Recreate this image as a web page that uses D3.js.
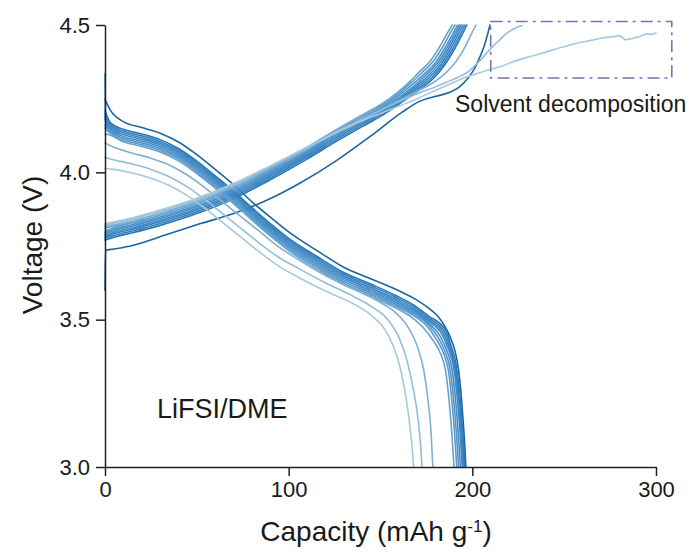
<!DOCTYPE html>
<html>
<head>
<meta charset="utf-8">
<script src="https://cdn.jsdelivr.net/npm/d3@7"></script>
<style>
  html, body { margin: 0; padding: 0; background: #ffffff; }
  svg { display: block; font-family: "Liberation Sans", Arial, sans-serif; }
</style>
</head>
<body>
<svg id="chart" width="689" height="552"></svg>
<script>
// ---- Galvanostatic charge/discharge profiles, LiFSI/DME electrolyte ----
// Each profile is a list of [capacity (mAh/g), voltage (V)] readings.

const cycles = [1, 2, 3, 4, 5, 6, 7, 8, 9, 10, 11, 12];

// Discharge branches
const dis1 = [[0,4.248],[3,4.21],[10,4.172],[20,4.152],[30,4.133],[40,4.103],[50,4.06],[60,4.01],[70,3.958],[80,3.9],[90,3.848],[100,3.798],[115,3.736],[130,3.678],[145,3.638],[158,3.604],[168,3.573],[176,3.54],[181,3.513],[185,3.478],[188,3.44],[190.5,3.395],[192.5,3.33],[194,3.24],[195.2,3.14],[196,3.06],[196.5,3.0]];
const dis2 = [[0,4.21],[3,4.168],[10,4.146],[20,4.13],[30,4.111],[40,4.081],[50,4.038],[60,3.988],[70,3.936],[80,3.88],[90,3.826],[100,3.776],[115,3.716],[130,3.66],[145,3.62],[158,3.583],[168,3.55],[176,3.513],[185,3.468],[188.5,3.41],[191.5,3.335],[193.5,3.225],[195,3.1],[196,3.0]];
const dis3 = [[0,4.2],[3,4.162],[10,4.14],[20,4.124],[30,4.105],[40,4.075],[50,4.032],[60,3.982],[70,3.93],[80,3.874],[90,3.82],[100,3.77],[115,3.71],[130,3.654],[145,3.614],[158,3.577],[168,3.544],[176,3.507],[184.5,3.462],[188,3.406],[191,3.333],[193,3.222],[194.5,3.1],[195.5,3.0]];
const dis4 = [[0,4.19],[3,4.156],[10,4.134],[20,4.118],[30,4.099],[40,4.069],[50,4.026],[60,3.976],[70,3.924],[80,3.868],[90,3.814],[100,3.764],[115,3.704],[130,3.648],[145,3.608],[158,3.571],[168,3.538],[176,3.501],[184,3.456],[187.5,3.403],[190.5,3.331],[192.5,3.221],[194,3.1],[195,3.0]];
const dis5 = [[0,4.18],[3,4.15],[10,4.128],[20,4.112],[30,4.093],[40,4.063],[50,4.02],[60,3.97],[70,3.918],[80,3.862],[90,3.808],[100,3.758],[115,3.698],[130,3.642],[145,3.602],[158,3.565],[168,3.532],[176,3.495],[183.5,3.45],[187,3.4],[190,3.33],[192,3.22],[193.5,3.1],[194.5,3.0]];
const dis6 = [[0,4.335],[0.3,4.17],[3,4.144],[10,4.122],[20,4.106],[30,4.087],[40,4.057],[50,4.014],[60,3.964],[70,3.912],[80,3.856],[90,3.802],[100,3.752],[115,3.692],[130,3.636],[145,3.596],[158,3.559],[168,3.526],[176,3.489],[182.5,3.444],[186,3.397],[189,3.329],[191,3.219],[192.5,3.1],[193.5,3.0]];
const dis7 = [[0,4.16],[3,4.138],[10,4.116],[20,4.1],[30,4.081],[40,4.051],[50,4.008],[60,3.958],[70,3.906],[80,3.85],[90,3.796],[100,3.746],[115,3.686],[130,3.63],[145,3.59],[158,3.553],[168,3.52],[176,3.483],[181.5,3.438],[185,3.394],[188,3.327],[190,3.218],[191.5,3.1],[192.5,3.0]];
const dis8 = [[0,4.15],[3,4.132],[10,4.11],[20,4.094],[30,4.075],[40,4.045],[50,4.002],[60,3.952],[70,3.9],[80,3.844],[90,3.79],[100,3.74],[115,3.68],[130,3.624],[145,3.584],[158,3.547],[168,3.514],[175,3.48],[180.5,3.432],[184,3.391],[187,3.326],[189,3.217],[190.5,3.1],[191.5,3.0]];
const dis9 = [[0,4.13],[3,4.126],[10,4.104],[20,4.088],[30,4.069],[40,4.039],[50,3.996],[60,3.946],[70,3.894],[80,3.838],[90,3.784],[100,3.734],[115,3.674],[130,3.618],[145,3.578],[158,3.541],[167,3.508],[173,3.475],[179,3.426],[182.5,3.388],[185.5,3.324],[187.5,3.216],[189,3.1],[190,3.0]];
const dis10 = [[0,4.1],[5,4.085],[15,4.065],[25,4.048],[35,4.025],[45,3.99],[55,3.945],[65,3.895],[75,3.845],[85,3.795],[95,3.745],[105,3.705],[120,3.65],[135,3.605],[148,3.565],[158,3.525],[165,3.475],[170,3.41],[173.5,3.33],[176,3.22],[177.6,3.11],[178.5,3.0]];
const dis11 = [[0,4.05],[5,4.042],[15,4.028],[25,4.01],[35,3.985],[45,3.95],[55,3.905],[65,3.855],[75,3.805],[85,3.755],[95,3.71],[105,3.675],[120,3.625],[135,3.58],[145,3.545],[154,3.5],[160,3.44],[164.5,3.36],[168,3.26],[170.5,3.16],[172,3.06],[172.6,3.0]];
const dis12 = [[0,4.013],[5,4.01],[15,3.998],[25,3.98],[35,3.955],[45,3.92],[55,3.875],[65,3.825],[75,3.775],[85,3.725],[95,3.68],[105,3.645],[120,3.597],[135,3.555],[145,3.515],[152,3.47],[157,3.41],[161,3.33],[164,3.23],[166,3.14],[167.3,3.06],[168,3.0]];

// Charge branches
const chg1 = [[0,3.6],[0.3,3.735],[5,3.74],[15,3.752],[34,3.79],[52,3.826],[70,3.86],[88,3.905],[106,3.963],[126,4.04],[144,4.12],[162,4.205],[171,4.24],[180,4.258],[187,4.27],[193,4.29],[197,4.315],[201,4.35],[204,4.39],[206.5,4.43],[208.5,4.473],[209.6,4.5]];
const chg2 = [[0,3.77],[5,3.78],[15,3.795],[30,3.82],[50,3.86],[70,3.91],[90,3.975],[110,4.045],[126,4.105],[140,4.155],[150,4.19],[162,4.24],[170,4.275],[179,4.32],[185,4.365],[190,4.415],[194,4.462],[197,4.5]];
const chg3 = [[0,3.775],[5,3.786],[15,3.801],[30,3.826],[50,3.866],[70,3.916],[90,3.981],[110,4.051],[126,4.111],[140,4.161],[150,4.196],[162,4.246],[169,4.278],[178,4.322],[184,4.366],[189,4.416],[193,4.463],[196,4.5]];
const chg4 = [[0,3.78],[5,3.792],[15,3.807],[30,3.832],[50,3.872],[70,3.922],[90,3.987],[110,4.057],[126,4.117],[140,4.167],[150,4.202],[162,4.252],[168.5,4.282],[177,4.325],[183,4.367],[188,4.418],[192,4.464],[195,4.5]];
const chg5 = [[0,3.785],[5,3.797],[15,3.812],[30,3.837],[50,3.877],[70,3.927],[90,3.992],[110,4.062],[126,4.122],[140,4.172],[150,4.207],[162,4.257],[168,4.286],[176,4.328],[182,4.369],[187,4.419],[191,4.465],[194,4.5]];
const chg6 = [[0,3.79],[5,3.803],[15,3.818],[30,3.843],[50,3.883],[70,3.933],[90,3.998],[110,4.068],[126,4.128],[140,4.178],[150,4.213],[162,4.263],[168,4.292],[175,4.332],[181,4.371],[186,4.42],[190,4.465],[193,4.5]];
const chg7 = [[0,3.795],[5,3.808],[15,3.823],[30,3.848],[50,3.888],[70,3.938],[90,4.003],[110,4.073],[126,4.133],[140,4.183],[150,4.218],[161,4.266],[167,4.296],[174,4.335],[180,4.373],[185,4.421],[189,4.466],[192,4.5]];
const chg8 = [[0,3.8],[5,3.814],[15,3.829],[30,3.854],[50,3.894],[70,3.944],[90,4.009],[110,4.079],[126,4.139],[140,4.189],[150,4.224],[160,4.268],[166,4.3],[172.5,4.338],[178.5,4.375],[183.5,4.422],[187.5,4.467],[190.5,4.5]];
const chg9 = [[0,3.81],[5,3.82],[15,3.835],[30,3.86],[50,3.9],[70,3.95],[90,4.015],[110,4.085],[126,4.145],[140,4.195],[150,4.23],[159,4.27],[165,4.302],[171,4.34],[177,4.377],[182,4.424],[186,4.468],[189,4.5]];
const chg10 = [[0,3.815],[5,3.822],[15,3.835],[30,3.862],[50,3.902],[70,3.952],[90,4.015],[110,4.08],[126,4.135],[140,4.18],[150,4.212],[162,4.25],[170,4.275],[180,4.31],[186,4.34],[191,4.375],[196,4.425],[199.5,4.47],[202,4.5]];
const chg11 = [[0,3.82],[5,3.828],[15,3.842],[30,3.868],[50,3.908],[70,3.958],[90,4.02],[110,4.085],[126,4.138],[140,4.18],[150,4.21],[162,4.245],[172,4.272],[180,4.29],[186,4.306],[192,4.322],[197,4.338],[201,4.36],[205,4.385],[210,4.42],[215,4.45],[219,4.473],[223,4.488],[227,4.498]];
const chg12 = [[0,3.825],[5,3.832],[15,3.846],[30,3.872],[50,3.912],[70,3.962],[90,4.022],[110,4.085],[126,4.135],[140,4.175],[150,4.2],[160,4.225],[170,4.25],[177,4.27],[186,4.295],[196,4.322],[203,4.336],[210,4.35],[216,4.36],[222,4.375],[231,4.392],[240,4.408],[249,4.425],[258,4.44],[264,4.447],[270,4.455],[276,4.46],[280,4.463],[282,4.456],[283.5,4.45],[286,4.453],[289,4.458],[291,4.46],[293,4.466],[295,4.47],[297,4.468],[300,4.473]];

const dischargeCurves = [dis1, dis2, dis3, dis4, dis5, dis6, dis7, dis8, dis9, dis10, dis11, dis12];
const chargeCurves = [chg1, chg2, chg3, chg4, chg5, chg6, chg7, chg8, chg9, chg10, chg11, chg12];

// Axes
const xMajorTicks = [0, 100, 200, 300];
const xMinorTicks = [50, 150, 250];
const yMajorTicks = [3.0, 3.5, 4.0, 4.5];
const yMinorTicks = [3.25, 3.75, 4.25];

// Highlighted region of electrolyte oxidation
const boxCapacity = [210, 308.6];
const boxVoltage = [4.32, 4.512];

// ---- styling ----
const cycleColors = ["#1b65a3", "#2a76b6", "#3280bf", "#3985c3", "#3f89c5", "#468dc7", "#4f94ca", "#5a9bcc", "#66a2cf", "#80b1d4", "#93bdd9", "#a6c9de"];
const axisColor = "#222222";
const textColor = "#1a1a1a";

const svg = d3.select("#chart");

const x = d3.scaleLinear().domain([0, 300]).range([105, 656]);
const y = d3.scaleLinear().domain([3.0, 4.5]).range([467, 25]);

const line = d3.line()
  .x(d => x(d[0]))
  .y(d => y(d[1]))
  .curve(d3.curveMonotoneX);

// Profiles
const plot = svg.append("g").attr("class", "profiles")
  .attr("fill", "none")
  .attr("stroke-width", 1.6)
  .attr("stroke-linejoin", "round")
  .attr("stroke-linecap", "round");

cycles.forEach((c, i) => {
  plot.append("path")
    .datum(chargeCurves[i])
    .attr("stroke", cycleColors[i])
    .attr("d", line);
  plot.append("path")
    .datum(dischargeCurves[i])
    .attr("stroke", cycleColors[i])
    .attr("d", line);
});

// X axis
const gx = svg.append("g").attr("transform", `translate(0,${y(3.0)})`);
gx.call(d3.axisBottom(x).tickValues(xMinorTicks).tickSize(5).tickFormat("").tickSizeOuter(0));
gx.call(d3.axisBottom(x).tickValues(xMajorTicks).tickSize(9).tickPadding(5).tickSizeOuter(0).tickFormat(d3.format("d")));

// Y axis
const gy = svg.append("g").attr("transform", `translate(${x(0)},0)`);
gy.call(d3.axisLeft(y).tickValues(yMinorTicks).tickSize(5).tickFormat("").tickSizeOuter(0));
gy.call(d3.axisLeft(y).tickValues(yMajorTicks).tickSize(9).tickPadding(6).tickSizeOuter(0).tickFormat(d3.format(".1f")));

svg.selectAll(".domain").attr("stroke", axisColor).attr("stroke-width", 1.5);
svg.selectAll(".tick line").attr("stroke", axisColor).attr("stroke-width", 1.5);
svg.selectAll(".tick text")
  .attr("fill", textColor)
  .style("font-family", "'Liberation Sans', Arial, sans-serif")
  .style("font-size", "22px");

// Axis titles
const xTitle = svg.append("text")
  .attr("x", 376).attr("y", 541)
  .attr("text-anchor", "middle")
  .attr("fill", textColor)
  .style("font-size", "28px");
xTitle.append("tspan").text("Capacity (mAh g");
xTitle.append("tspan").attr("baseline-shift", "super").style("font-size", "17px").text("-1");
xTitle.append("tspan").text(")");

svg.append("text")
  .attr("transform", "translate(42,245) rotate(-90)")
  .attr("text-anchor", "middle")
  .attr("fill", textColor)
  .style("font-size", "28px")
  .text("Voltage (V)");

// Annotation box and labels
svg.append("rect")
  .attr("x", x(boxCapacity[0]))
  .attr("y", y(boxVoltage[1]))
  .attr("width", x(boxCapacity[1]) - x(boxCapacity[0]))
  .attr("height", y(boxVoltage[0]) - y(boxVoltage[1]))
  .attr("fill", "none")
  .attr("stroke", "#7d6fb4")
  .attr("stroke-width", 1.6)
  .attr("stroke-dasharray", "12,5,3,5");

svg.append("text")
  .attr("x", 455).attr("y", 112)
  .attr("fill", textColor)
  .style("font-size", "23px")
  .text("Solvent decomposition");

svg.append("text")
  .attr("x", 157).attr("y", 418)
  .attr("fill", textColor)
  .style("font-size", "27px")
  .text("LiFSI/DME");
</script>
</body>
</html>
